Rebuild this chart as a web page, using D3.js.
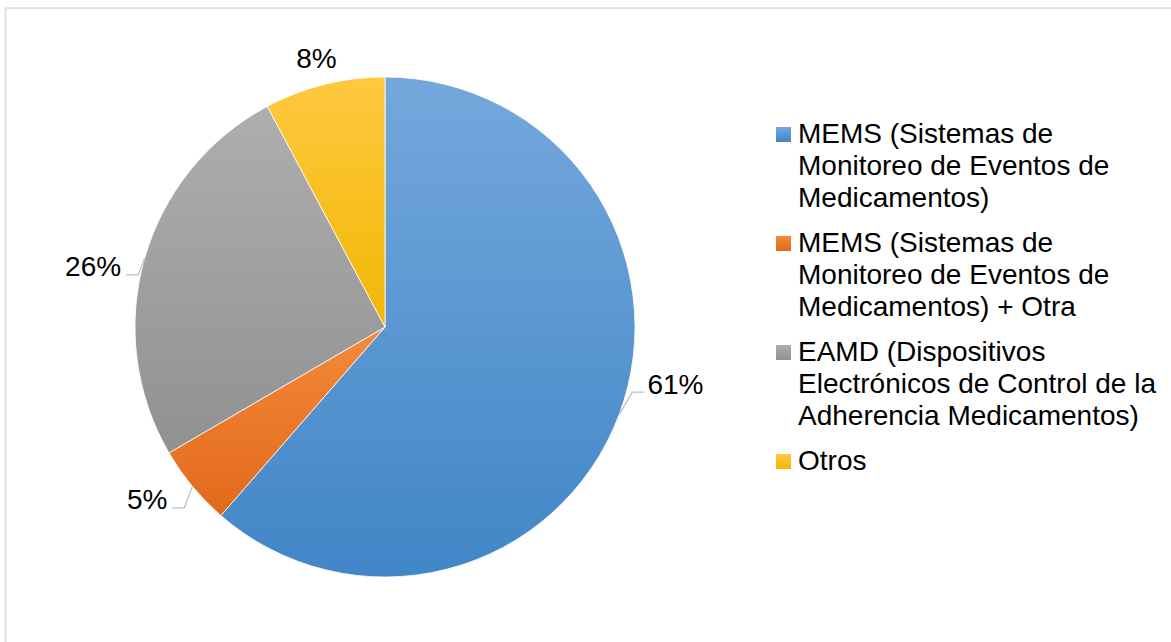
<!DOCTYPE html>
<html>
<head>
<meta charset="utf-8">
<script src="https://cdn.jsdelivr.net/npm/d3@7"></script>
<style>
  html, body { margin: 0; padding: 0; background: #fff; }
  svg { display: block; }
  text { font-family: "Liberation Sans", Arial, sans-serif; fill: #000; }
</style>
</head>
<body>
<svg id="chart" width="1171" height="642"></svg>
<script>
// ---- data ----
const categories = [
  "MEMS (Sistemas de Monitoreo de Eventos de Medicamentos)",
  "MEMS (Sistemas de Monitoreo de Eventos de Medicamentos) + Otra",
  "EAMD (Dispositivos Electrónicos de Control de la Adherencia Medicamentos)",
  "Otros"
];
const values = [61.4, 5.2, 25.6, 7.8];
const pctLabels = ["61%", "5%", "26%", "8%"];
const legendLines = [
  ["MEMS (Sistemas de", "Monitoreo de Eventos de", "Medicamentos)"],
  ["MEMS (Sistemas de", "Monitoreo de Eventos de", "Medicamentos) + Otra"],
  ["EAMD (Dispositivos", "Electrónicos de Control de la", "Adherencia Medicamentos)"],
  ["Otros"]
];
const colorsTop = ["#74A8DC", "#F48A3B", "#AEAEAE", "#FFC83F"];
const colorsBottom = ["#4186C7", "#E2691A", "#919191", "#F2B705"];

// ---- layout ----
const W = 1171, H = 642;
const cx = 385, cy = 327, R = 250;
// label placement (polar, degrees clockwise from top) relative to pie centre
const labelAngleNudge = [-9.4, 3.6, -4.2, -0.3];
const labelRadius = [296, 294, 298, 277];
const fontSize = 28;

const svg = d3.select("#chart");

// chart area border
svg.append("rect")
  .attr("x", 5.5).attr("y", 8.2)
  .attr("width", W + 10).attr("height", H + 10)
  .attr("fill", "none").attr("stroke", "#DCE1E8").attr("stroke-width", 2);

const defs = svg.append("defs");
categories.forEach((c, i) => {
  const g = defs.append("linearGradient")
    .attr("id", "grad" + i)
    .attr("x1", 0).attr("y1", 0).attr("x2", 0).attr("y2", 1);
  g.append("stop").attr("offset", "0%").attr("stop-color", colorsTop[i]);
  g.append("stop").attr("offset", "100%").attr("stop-color", colorsBottom[i]);
});

const pie = d3.pie().sort(null).value(d => d);
const arcs = pie(values);
const arc = d3.arc().innerRadius(0).outerRadius(R);

const gPie = svg.append("g").attr("transform", `translate(${cx},${cy})`);
gPie.selectAll("path.slice")
  .data(arcs)
  .enter().append("path")
  .attr("class", "slice")
  .attr("d", arc)
  .attr("fill", (d, i) => `url(#grad${i})`)
  .attr("stroke", "#ffffff")
  .attr("stroke-width", 0.8)
  .attr("stroke-linejoin", "round");

// data labels + leader lines
const rad = deg => deg * Math.PI / 180;
arcs.forEach((a, i) => {
  const mid = (a.startAngle + a.endAngle) / 2;
  const la = mid + rad(labelAngleNudge[i]);
  const lx = labelRadius[i] * Math.sin(la);
  const ly = -labelRadius[i] * Math.cos(la);
  const t = gPie.append("text")
    .attr("x", lx).attr("y", ly)
    .attr("text-anchor", "middle")
    .attr("dominant-baseline", "central")
    .attr("font-size", fontSize)
    .text(pctLabels[i]);
  const bb = t.node().getBBox();
  const edgeX = R * Math.sin(mid), edgeY = -R * Math.cos(mid);
  const dist = Math.hypot(lx, ly);
  if (dist - R > 35) {
    const right = lx > 0;
    const yl = ly + 8;
    const xEnd = right ? bb.x - 3 : bb.x + bb.width + 5;
    const xElbow = right ? xEnd - 12 : xEnd + 12;
    gPie.append("polyline")
      .attr("points", [[xEnd, yl], [xElbow, yl], [edgeX, edgeY]].map(p => p.join(",")).join(" "))
      .attr("fill", "none")
      .attr("stroke", "#B7C2D0")
      .attr("stroke-width", 1.3);
  }
});

// legend
const legX = 776, legY0 = 126, sq = 15, lineH = 32, itemGap = 13;
const gLeg = svg.append("g");
let y = legY0;
legendLines.forEach((lines, i) => {
  gLeg.append("rect")
    .attr("x", legX).attr("y", y + 1)
    .attr("width", sq).attr("height", sq)
    .attr("fill", `url(#grad${i})`);
  const t = gLeg.append("text")
    .attr("x", legX + 22)
    .attr("y", y + 17)
    .attr("font-size", fontSize);
  lines.forEach((ln, j) => {
    t.append("tspan").attr("x", legX + 22).attr("dy", j === 0 ? 0 : lineH).text(ln);
  });
  y += lines.length * lineH + itemGap;
});
</script>
</body>
</html>
